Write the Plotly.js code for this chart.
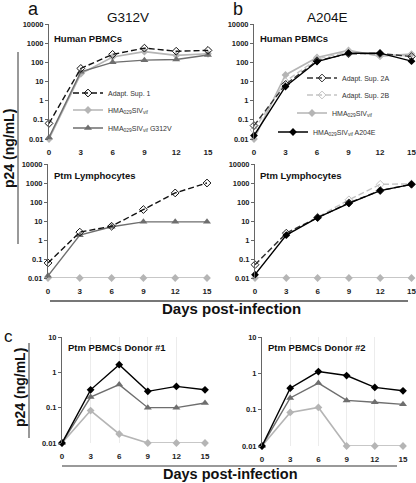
<!DOCTYPE html>
<html><head><meta charset="utf-8">
<script src="https://cdn.plot.ly/plotly-3.0.1.min.js"></script>
<style>body{margin:0;padding:0;background:#fff}#plot{width:416px;height:483px}</style>
</head><body><div id="plot"></div>
<script>
const days = [0, 3, 6, 9, 12, 15];
const yTickVals = [0.01, 0.1, 1, 10, 100, 1000, 10000];
const yTickText = ['0.01', '0.1', '1', '10', '100', '1000', '10000'];
const yTickValsC = [0.01, 0.1, 1, 10];
const yTickTextC = ['0.01', '0.1', '1', '10'];

// Panel a, Human PBMCs
const aHumAdapt1 = [0.065, 48, 260, 550, 380, 420];
const aHumHMA = [0.01, 25, 190, 360, 230, 280];
const aHumG312V = [0.012, 32, 100, 130, 140, 240];
// Panel a, Ptm Lymphocytes
const aPtmAdapt1 = [0.062, 2.6, 5.3, 40, 300, 1000];
const aPtmHMA = [0.01, 0.01, 0.01, 0.01, 0.01, 0.01];
const aPtmG312V = [0.013, 1.8, 5.0, 9, 9, 9];
// Panel b, Human PBMCs
const bHumAdapt2A = [0.05, 7, 120, 280, 290, 200];
const bHumAdapt2B = [0.03, 10, 150, 350, 230, 220];
const bHumHMA = [0.01, 22, 180, 420, 210, 270];
const bHumA204E = [0.015, 5.5, 110, 300, 300, 115];
// Panel b, Ptm Lymphocytes
const bPtmAdapt2A = [0.05, 2.3, 15, 90, 400, 850];
const bPtmAdapt2B = [0.05, 2.2, 16, 130, 850, 900];
const bPtmHMA = [0.01, 0.01, 0.01, 0.01, 0.01, 0.01];
const bPtmA204E = [0.015, 1.8, 15, 85, 400, 850];
// Panel c, Ptm PBMCs
const c1A204E = [0.01, 0.32, 1.65, 0.29, 0.4, 0.32];
const c1G312V = [0.01, 0.2, 0.45, 0.1, 0.1, 0.135];
const c1HMA = [0.01, 0.083, 0.018, 0.01, 0.01, 0.01];
const c2A204E = [0.01, 0.39, 1.12, 0.87, 0.41, 0.33];
const c2G312V = [0.01, 0.21, 0.54, 0.18, 0.16, 0.14];
const c2HMA = [0.01, 0.084, 0.115, 0.01, 0.01, 0.01];

const W = 416, H = 483;
const px = x => x / W;
const py = y => 1 - y / H;
const FONT = 'Arial, "Liberation Sans", sans-serif';

const st = {
  adapt1: {line: {color: '#111', width: 1.4, dash: '6px,3px'}, marker: {symbol: 'diamond-open', size: 6, color: '#111', line: {width: 1, color: '#111'}}},
  adapt2A: {line: {color: '#333', width: 1.4, dash: '6px,3px'}, marker: {symbol: 'diamond-open', size: 6, color: '#333', line: {width: 1, color: '#333'}}},
  adapt2B: {line: {color: '#c4c4c4', width: 1.4, dash: '6px,3px'}, marker: {symbol: 'diamond-open', size: 6, color: '#c4c4c4', line: {width: 1, color: '#c4c4c4'}}},
  hma: {line: {color: '#b5b5b5', width: 1.6}, marker: {symbol: 'diamond', size: 6, color: '#b5b5b5'}},
  g312v: {line: {color: '#6e6e6e', width: 1.4}, marker: {symbol: 'triangle-up', size: 7, color: '#6e6e6e'}},
  a204e: {line: {color: '#000', width: 1.4}, marker: {symbol: 'diamond', size: 6, color: '#000'}}
};

const HMA_NAME = 'HMA<sub>029</sub>SIV<sub>vif</sub>';
const traces = [];
function tr(y, s, xa, ya, name, legend) {
  const t = Object.assign({x: days, y: y, type: 'scatter', mode: 'lines+markers', xaxis: xa, yaxis: ya,
    cliponaxis: false, showlegend: !!legend, name: name || ''}, JSON.parse(JSON.stringify(s)));
  if (legend) t.legend = legend;
  traces.push(t);
}
// a top
tr(aHumHMA, st.hma, 'x', 'y', HMA_NAME, 'legend2');
tr(aHumG312V, st.g312v, 'x', 'y', HMA_NAME + ' G312V', 'legend3');
tr(aHumAdapt1, st.adapt1, 'x', 'y', 'Adapt. Sup. 1', 'legend');
// a bottom
tr(aPtmHMA, st.hma, 'x2', 'y2');
tr(aPtmG312V, st.g312v, 'x2', 'y2');
tr(aPtmAdapt1, st.adapt1, 'x2', 'y2');
// b top
tr(bHumHMA, st.hma, 'x3', 'y3', HMA_NAME, 'legend6');
tr(bHumAdapt2B, st.adapt2B, 'x3', 'y3', 'Adapt. Sup. 2B', 'legend5');
tr(bHumAdapt2A, st.adapt2A, 'x3', 'y3', 'Adapt. Sup. 2A', 'legend4');
tr(bHumA204E, st.a204e, 'x3', 'y3', HMA_NAME + ' A204E', 'legend7');
// b bottom
tr(bPtmHMA, st.hma, 'x4', 'y4');
tr(bPtmAdapt2B, st.adapt2B, 'x4', 'y4');
tr(bPtmAdapt2A, st.adapt2A, 'x4', 'y4');
tr(bPtmA204E, st.a204e, 'x4', 'y4');
// c
tr(c1HMA, st.hma, 'x5', 'y5');
tr(c1G312V, st.g312v, 'x5', 'y5');
tr(c1A204E, st.a204e, 'x5', 'y5');
tr(c2HMA, st.hma, 'x6', 'y6');
tr(c2G312V, st.g312v, 'x6', 'y6');
tr(c2A204E, st.a204e, 'x6', 'y6');

function xax(x0, x1, anchor, grid) {
  return {domain: [px(x0), px(x1)], range: [0, 15], anchor: anchor, tickvals: days, ticktext: days.map(String),
    showline: false, zeroline: false, showgrid: !!grid, gridcolor: '#ececec', ticks: '', ticklabelstandoff: 7,
    ticklabeloverflow: 'allow',
    tickfont: {family: FONT, size: 8, color: '#222', weight: 'bold'}, fixedrange: true};
}
function yax(y0, y1, anchor, c) {
  const o = {domain: [py(y1), py(y0)], type: 'log', range: c ? [-2, 1] : [-2, 4], anchor: anchor,
    tickvals: c ? yTickValsC : yTickVals, ticktext: c ? yTickTextC : yTickText,
    showline: true, linecolor: '#666', linewidth: 1, ticks: 'outside', ticklen: 3, tickcolor: '#666',
    showgrid: false, zeroline: false, tickfont: {family: FONT, size: 7.5, color: '#222', weight: 'bold'}, fixedrange: true};
  return o;
}

function leg(x, y) {
  return {x: px(x), y: py(y), xanchor: 'left', yanchor: 'middle', bgcolor: 'rgba(0,0,0,0)', borderwidth: 0,
    font: {family: FONT, size: 7, color: '#333'}, itemwidth: 30, tracegroupgap: 0};
}

const ann = [];
function txt(x, y, s, size, bold, extra) {
  ann.push(Object.assign({xref: 'paper', yref: 'paper', x: px(x), y: py(y), text: s, showarrow: false,
    xanchor: 'center', yanchor: 'middle', font: {family: FONT, size: size, color: '#111', weight: bold ? 'bold' : 'normal'}}, extra || {}));
}
txt(33, 9, 'a', 18, false);
txt(238, 9, 'b', 18, false);
txt(8, 336, 'c', 17, false);
txt(128, 17, 'G312V', 13.5, false);
txt(327, 17, 'A204E', 13.5, false);
txt(52, 38, 'Human PBMCs', 9.5, true, {xanchor: 'left'});
txt(258, 38, 'Human PBMCs', 9.5, true, {xanchor: 'left'});
txt(52, 175, 'Ptm Lymphocytes', 9.5, true, {xanchor: 'left'});
txt(258, 175, 'Ptm Lymphocytes', 9.5, true, {xanchor: 'left'});
txt(66, 347, 'Ptm PBMCs Donor #1', 9.5, true, {xanchor: 'left'});
txt(266, 347, 'Ptm PBMCs Donor #2', 9.5, true, {xanchor: 'left'});
txt(231, 308, 'Days post-infection', 15, true);
txt(230, 474, 'Days post-infection', 14.5, true);
txt(9, 149, 'p24 (ng/mL)', 14, true, {textangle: -90});
txt(20, 388, 'p24 (ng/mL)', 14, true, {textangle: -90});

const shapes = [
  {type: 'line', xref: 'paper', yref: 'paper', x0: px(50), x1: px(408), y0: py(301), y1: py(301), line: {color: '#777', width: 2}},
  {type: 'line', xref: 'paper', yref: 'paper', x0: px(62), x1: px(397), y0: py(466), y1: py(466), line: {color: '#777', width: 1.5}},
  {type: 'line', xref: 'paper', yref: 'paper', x0: px(18), x1: px(18), y0: py(52), y1: py(244), line: {color: '#777', width: 1.5}},
  {type: 'line', xref: 'paper', yref: 'paper', x0: px(29), x1: px(29), y0: py(343), y1: py(438), line: {color: '#777', width: 1.5}}
];

const layout = {
  width: W, height: H, margin: {l: 0, r: 0, t: 0, b: 0}, paper_bgcolor: '#fff', plot_bgcolor: 'rgba(0,0,0,0)',
  font: {family: FONT}, showlegend: true,
  xaxis: xax(49, 208, 'y'), yaxis: yax(24, 139, 'x'),
  xaxis2: xax(48, 207, 'y2'), yaxis2: yax(164, 278, 'x2'),
  xaxis3: xax(254, 411.5, 'y3'), yaxis3: yax(24, 139, 'x3'),
  xaxis4: xax(255, 411.5, 'y4'), yaxis4: yax(164, 278, 'x4'),
  xaxis5: xax(62, 205, 'y5', true), yaxis5: yax(337, 443, 'x5', true),
  xaxis6: xax(262, 403, 'y6', true), yaxis6: yax(337, 446, 'x6', true),
  legend: leg(68, 93), legend2: leg(68, 110), legend3: leg(68, 128),
  legend4: leg(302, 78), legend5: leg(302, 95), legend6: leg(292, 113), legend7: leg(273, 132),
  annotations: ann, shapes: shapes
};
Plotly.newPlot('plot', traces, layout, {displayModeBar: false, staticPlot: true});
</script></body></html>
